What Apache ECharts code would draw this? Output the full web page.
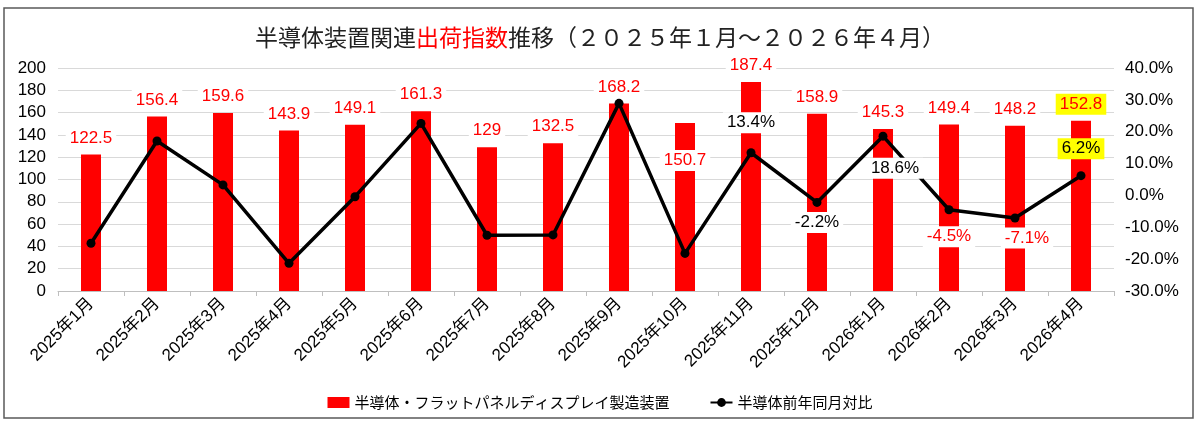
<!DOCTYPE html>
<html>
<head>
<meta charset="utf-8">
<script src="https://cdn.jsdelivr.net/npm/echarts@6/dist/echarts.min.js"></script>
<style>
html, body { margin: 0; padding: 0; background: #fff; }
#chart { width: 1200px; height: 429px; }
</style>
</head>
<body>
<div id="chart"></div>
<script type="text/javascript">
	// 月
	var months = [ '2025年1月', '2025年2月', '2025年3月', '2025年4月', '2025年5月',
			'2025年6月', '2025年7月', '2025年8月', '2025年9月', '2025年10月',
			'2025年11月', '2025年12月', '2026年1月', '2026年2月', '2026年3月',
			'2026年4月' ];
	// 半導体・フラットパネルディスプレイ製造装置 出荷指数
	var shipIndex = [ 122.5, 156.4, 159.6, 143.9, 149.1, 161.3, 129, 132.5,
			168.2, 150.7, 187.4, 158.9, 145.3, 149.4, 148.2, 152.8 ];
	// 半導体前年同月対比 (%)
	var yoyPct = [ -15.0, 17.1, 3.3, -21.3, -0.4, 22.6, -12.5, -12.4, 28.9,
			-18.2, 13.4, -2.2, 18.6, -4.5, -7.1, 6.2 ];
	// 右軸目盛
	var pctMin = -30, pctMax = 40, pctStep = 10;

	var numFont = 'Arial, "Liberation Sans", "Noto Sans CJK JP"';
	var jpFont = '"Noto Sans CJK JP", Arial, sans-serif';

	// ラベル配置（見た目のみ）
	var barLabelTweak = {
		9 : { offset : [ 0, 54 ] },
		15 : { backgroundColor : '#FFFF00' }
	};
	var lineLabelTweak = {
		10 : { position : 'top', distance : 15 },
		11 : { position : 'bottom', distance : 5 },
		12 : { position : 'bottom', distance : 17, offset : [ 12, 0 ] },
		13 : { position : 'bottom', distance : 12, color : '#FF0000' },
		14 : { position : 'bottom', distance : 5, offset : [ 12, 0 ], color : '#FF0000' },
		15 : { position : 'top', distance : 12, backgroundColor : '#FFFF00' }
	};

	var barData = shipIndex.map(function(v, i) {
		var item = { value : v };
		if (barLabelTweak[i])
			item.label = barLabelTweak[i];
		return item;
	});
	var lineData = yoyPct.map(function(v, i) {
		var item = { value : v };
		if (lineLabelTweak[i]) {
			item.label = Object.assign({ show : true }, lineLabelTweak[i]);
		}
		return item;
	});

	var myChart = echarts.init(document.getElementById('chart'));
	var option = {
		animation : false,
		backgroundColor : '#fff',
		title : {
			left : 'center',
			top : 21,
			text : '{a|半導体装置関連}{b|出荷指数}{a|推移（２０２５年１月～２０２６年４月）}',
			textStyle : {
				fontWeight : 'normal',
				rich : {
					a : { fontFamily : jpFont, fontSize : 23, fontWeight : 'normal', color : '#222' },
					b : { fontFamily : jpFont, fontSize : 23, fontWeight : 'normal', color : '#FF0000' }
				}
			}
		},
		graphic : [ {
			type : 'rect',
			shape : { x : 4, y : 8, width : 1189, height : 410 },
			style : { fill : 'none', stroke : '#595959', lineWidth : 1.5 },
			silent : true,
			z : -1
		} ],
		legend : {
			left : 'center',
			top : 390,
			itemGap : 40,
			itemWidth : 22,
			itemHeight : 11,
			textStyle : { fontFamily : jpFont, fontSize : 15, color : '#000' },
			data : [ { name : '半導体・フラットパネルディスプレイ製造装置', icon : 'rect' },
					{ name : '半導体前年同月対比' } ]
		},
		grid : {
			left : 58,
			right : 86,
			top : 68,
			bottom : 138,
			containLabel : false
		},
		xAxis : {
			type : 'category',
			data : months,
			axisLine : { show : true, lineStyle : { color : '#bfbfbf', width : 1 } },
			axisTick : { show : true, alignWithLabel : false, length : 5,
				lineStyle : { color : '#bfbfbf' } },
			axisLabel : {
				rotate : 45,
				interval : 0,
				margin : 10,
				fontFamily : numFont,
				fontSize : 17,
				color : '#000'
			}
		},
		yAxis : [ {
			type : 'value',
			min : 0,
			max : 200,
			interval : 20,
			axisLine : { show : false },
			axisTick : { show : false },
			splitLine : { lineStyle : { color : '#d9d9d9', width : 1 } },
			axisLabel : { margin : 12, fontFamily : numFont, fontSize : 17, color : '#000' }
		}, {
			type : 'value',
			min : pctMin,
			max : pctMax,
			interval : pctStep,
			axisLine : { show : false },
			axisTick : { show : false },
			splitLine : { show : false },
			axisLabel : {
				margin : 11,
				fontFamily : numFont,
				fontSize : 17,
				color : '#000',
				formatter : function(v) {
					return v.toFixed(1) + '%';
				}
			}
		} ],
		series : [ {
			name : '半導体・フラットパネルディスプレイ製造装置',
			type : 'bar',
			yAxisIndex : 0,
			barWidth : 20,
			itemStyle : { color : '#FF0000' },
			label : {
				show : true,
				position : 'top',
				distance : 6,
				fontFamily : numFont,
				fontSize : 17,
				color : '#FF0000',
				backgroundColor : '#fff',
				padding : [ 2, 4 ]
			},
			data : barData
		}, {
			name : '半導体前年同月対比',
			type : 'line',
			yAxisIndex : 1,
			symbol : 'circle',
			symbolSize : 9,
			itemStyle : { color : '#000' },
			lineStyle : { color : '#000', width : 3.5 },
			label : {
				show : false,
				fontFamily : numFont,
				fontSize : 17,
				color : '#000',
				backgroundColor : '#fff',
				padding : [ 2, 4 ],
				formatter : function(p) {
					return p.value.toFixed(1) + '%';
				}
			},
			z : 3,
			data : lineData
		} ]
	};
	myChart.setOption(option);
</script>
</body>
</html>
